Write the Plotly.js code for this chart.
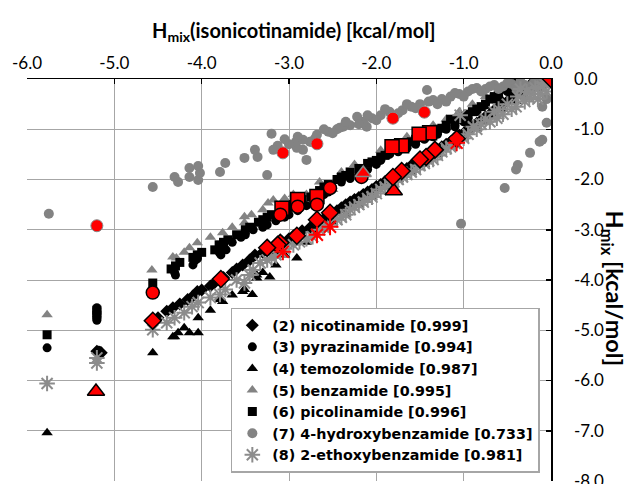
<!DOCTYPE html>
<html>
<head>
<meta charset="utf-8">
<script src="https://cdn.plot.ly/plotly-3.0.1.min.js"></script>
<style>html,body{margin:0;padding:0;background:#fff;}#chart{width:630px;height:484px;}</style>
</head>
<body>
<div id="chart"></div>
<script>
// ---- data ----
const seriesNames = [
  "(2) nicotinamide [0.999]",
  "(3) pyrazinamide [0.994]",
  "(4) temozolomide [0.987]",
  "(5) benzamide [0.995]",
  "(6) picolinamide [0.996]",
  "(7) 4-hydroxybenzamide [0.733]",
  "(8) 2-ethoxybenzamide [0.981]"
];

const nicoX = [-0.05,-0.15,-0.25,-0.35,-0.42,-0.5,-0.6,-0.7,-0.8,-0.9,-1.0,-1.15,-1.25,-1.35,-1.5,-1.6,-1.7,-1.9,-2.0,-2.1,-2.2,-2.3,-2.4,-2.6,-2.76,-2.85,-3.0,-3.08,-3.18,-3.39,-3.53,-3.65,-3.9,-4.05,-4.16,-4.33,-5.2,-5.15,
  -0.08,-0.2,-0.3,-0.45,-0.55,-0.65,-0.75,-0.85,-0.95,-1.05,-1.2,-1.3,-1.4,-1.45,-1.55,-1.65,-1.75,-1.85,-1.95,-2.05,-2.15,-2.25,-2.35,-2.45,-2.5,-2.55,-2.65,-2.7,-2.95,-3.12,-3.25,-3.3,-3.45,-3.6,-3.75,-3.85,-4.0,-4.1,-4.25,-4.4,-4.5];
const nicoY = [-0.05,-0.1,-0.2,-0.25,-0.32,-0.45,-0.55,-0.7,-0.82,-0.95,-1.08,-1.25,-1.35,-1.45,-1.62,-1.72,-1.84,-2.04,-2.14,-2.25,-2.36,-2.45,-2.56,-2.78,-2.96,-3.02,-3.18,-3.24,-3.38,-3.5,-3.7,-3.85,-4.12,-4.23,-4.39,-4.55,-5.42,-5.45,
  -0.12,-0.05,-0.18,-0.38,-0.48,-0.62,-0.75,-0.88,-1.0,-1.12,-1.3,-1.4,-1.52,-1.55,-1.68,-1.78,-1.9,-1.98,-2.1,-2.2,-2.3,-2.4,-2.5,-2.62,-2.68,-2.72,-2.82,-2.9,-3.12,-3.3,-3.42,-3.45,-3.6,-3.78,-3.95,-4.05,-4.2,-4.32,-4.48,-4.62,-4.75];

const pyraX = [-0.45,-0.65,-0.85,-1.1,-1.35,-1.55,-1.85,-2.0,-2.2,-2.4,-2.55,-2.7,-2.9,-3.05,-3.25,-3.41,-3.55,-3.76,-3.8,-4.08,-4.31,-5.2,-5.2,-5.2,-5.18,-5.77,
  -0.5,-0.6,-0.75,-0.95,-1.0,-1.2,-1.3,-1.45,-1.65,-1.75,-1.95,-2.1,-2.3,-2.5,-2.6,-2.8,-3.0,-3.15,-3.3,-3.5,-3.65,-3.72,-3.78,-4.1,-4.3,-4.05];
const pyraY = [-0.15,-0.4,-0.65,-0.95,-1.15,-1.3,-1.5,-1.7,-1.9,-2.05,-2.25,-2.45,-2.62,-2.75,-2.9,-3.0,-3.15,-3.36,-3.45,-3.62,-3.85,-4.55,-4.75,-4.8,-5.4,-5.35,
  -0.25,-0.35,-0.52,-0.78,-0.85,-1.0,-1.1,-1.2,-1.38,-1.45,-1.62,-1.8,-1.98,-2.18,-2.3,-2.52,-2.7,-2.82,-2.95,-3.1,-3.25,-3.4,-3.5,-3.7,-3.9,-3.58];

const temoX = [-0.3,-0.55,-0.75,-1.0,-1.3,-1.6,-1.9,-2.2,-2.5,-2.7,-2.91,-3.22,-3.37,-3.37,-3.42,-3.51,-3.53,-3.76,-3.79,-4.04,-4.04,-4.14,-4.27,-4.31,-4.33,-4.56,-5.77,
  -0.15,-0.4,-0.65,-0.85,-1.15,-1.45,-1.75,-2.05,-2.35,-2.6,-2.8,-3.05,-3.15,-3.3,-3.65,-3.9,-4.2];
const temoY = [-0.35,-0.6,-0.85,-1.15,-1.5,-1.85,-2.15,-2.5,-2.85,-3.1,-3.56,-3.94,-3.9,-3.96,-4.29,-4.19,-4.23,-4.43,-4.39,-4.75,-5.05,-5.05,-5.05,-5.13,-5.13,-5.45,-7.04,
  -0.2,-0.45,-0.75,-0.98,-1.35,-1.7,-2.0,-2.35,-2.7,-2.98,-3.25,-3.5,-3.7,-3.85,-4.3,-4.6,-4.95];

const benzX = [-0.35,-0.6,-0.9,-1.2,-1.5,-1.8,-2.11,-2.5,-2.8,-3.18,-3.24,-3.43,-3.51,-3.51,-3.76,-4.05,-4.14,-4.33,-4.29,-4.57,-5.77,
  -0.45,-0.75,-1.05,-1.35,-1.65,-1.95,-2.25,-2.4,-2.65,-2.95,-3.05,-3.3,-3.65,-3.9,-4.2];
const benzY = [0.0,-0.2,-0.5,-0.8,-1.05,-1.3,-1.71,-2.2,-2.3,-2.41,-2.47,-2.7,-2.74,-2.86,-3.06,-3.26,-3.36,-3.54,-3.56,-3.8,-4.69,
  -0.05,-0.35,-0.65,-0.92,-1.15,-1.42,-1.7,-1.85,-2.05,-2.3,-2.38,-2.6,-2.95,-3.15,-3.45];

const picoX = [-0.4,-0.5,-0.6,-0.7,-0.8,-0.95,-1.05,-1.2,-1.3,-1.6,-1.75,-1.95,-2.1,-2.3,-2.45,-2.6,-2.75,-2.95,-3.2,-3.35,-3.5,-3.75,-3.85,-4.05,-4.3,-4.56,-5.2,-5.77,
  -0.45,-0.55,-0.65,-0.75,-0.85,-0.9,-1.0,-1.1,-1.15,-1.25,-1.4,-1.45,-1.55,-1.65,-1.7,-1.85,-1.9,-2.0,-2.05,-2.2,-2.35,-2.4,-2.55,-2.65,-2.7,-2.85,-3.0,-3.1,-3.25,-3.3,-3.45,-3.6,-3.7,-3.8,-4.0,-4.1,-4.25,-4.35,-5.2,-5.2];
const picoY = [-0.05,-0.15,-0.3,-0.4,-0.55,-0.7,-0.8,-0.92,-1.0,-1.25,-1.38,-1.55,-1.68,-1.85,-2.0,-2.15,-2.35,-2.5,-2.7,-2.85,-3.0,-3.25,-3.4,-3.5,-3.72,-4.06,-4.65,-5.09,
  -0.1,-0.2,-0.35,-0.5,-0.6,-0.65,-0.75,-0.85,-0.8,-0.98,-1.1,-1.15,-1.2,-1.3,-1.38,-1.45,-1.52,-1.62,-1.65,-1.78,-1.92,-1.95,-2.1,-2.22,-2.28,-2.4,-2.55,-2.6,-2.75,-2.8,-2.95,-3.1,-3.2,-3.3,-3.45,-3.55,-3.65,-3.78,-4.7,-4.6];

const hydrX = [-0.02,-0.1,-0.2,-0.3,-0.45,-0.55,-0.65,-0.75,-0.85,-0.95,-1.05,-1.15,-1.25,-1.35,-1.42,-1.5,-1.6,-1.7,-1.85,-1.95,-2.05,-2.11,-2.15,-2.22,-2.3,-2.38,-2.42,-2.45,-2.55,-2.68,-2.75,-2.76,-2.84,-2.84,-2.91,-2.8,-2.92,-3.13,-3.2,-3.18,-3.36,-3.39,-3.51,-3.25,-3.73,-3.79,-4.02,-4.04,-4.04,-4.14,-4.14,-4.27,-4.31,-4.56,-5.75,-0.05,-0.1,-0.05,-0.1,-0.13,-0.24,-0.38,-0.4,-0.53,-1.03,
  -0.05,-0.15,-0.25,-0.35,-0.4,-0.5,-0.6,-0.7,-0.8,-0.9,-1.0,-1.1,-1.2,-1.3,-1.4,-1.55,-1.65,-1.75,-1.9,-2.0,-2.1,-2.2,-2.35,-2.5,-2.6,-2.7,-2.9,-3.0,-3.05];
const hydrY = [-0.05,-0.1,-0.08,-0.12,-0.1,-0.15,-0.12,-0.2,-0.18,-0.25,-0.3,-0.35,-0.4,-0.42,-0.22,-0.5,-0.55,-0.62,-0.65,-0.72,-0.78,-0.95,-0.85,-0.75,-0.92,-0.95,-0.97,-1.0,-1.05,-1.11,-1.25,-1.25,-1.21,-1.41,-1.37,-1.61,-1.25,-1.33,-1.09,-1.41,-1.55,-1.41,-1.57,-1.91,-1.67,-1.85,-1.87,-1.73,-2.01,-1.77,-1.95,-2.05,-1.95,-2.15,-2.68,-0.87,-0.55,-0.4,-1.21,-1.25,-1.47,-1.71,-1.8,-2.17,-2.88,
  0.0,-0.05,-0.15,-0.05,-0.18,-0.08,-0.2,-0.15,-0.25,-0.2,-0.35,-0.28,-0.45,-0.5,-0.45,-0.58,-0.5,-0.68,-0.6,-0.82,-0.72,-0.9,-0.85,-1.08,-1.0,-1.18,-1.15,-1.3,-1.2];

const ethoX = [-0.02,-0.05,-0.1,-0.15,-0.2,-0.3,-0.35,-0.4,-0.5,-0.55,-0.65,-0.7,-0.8,-0.89,-0.95,-1.04,-1.15,-1.25,-1.35,-1.45,-1.55,-1.65,-1.75,-1.85,-1.95,-2.05,-2.15,-2.25,-2.35,-2.45,-2.6,-2.73,-2.88,-3.1,-3.2,-3.33,-3.41,-3.51,-3.73,-3.79,-4.04,-4.11,-4.31,-4.56,-5.2,-5.2,-5.77,
  -0.08,-0.12,-0.18,-0.25,-0.28,-0.38,-0.45,-0.6,-0.62,-0.75,-0.85,-1.0,-1.1,-1.2,-1.3,-1.4,-1.5,-1.6,-1.7,-1.8,-1.9,-2.0,-2.1,-2.2,-2.3,-2.4,-2.55,-2.65,-2.8,-2.95,-3.05,-3.15,-3.25,-3.45,-3.6,-3.9,-4.2,-4.4];
const ethoY = [-0.02,-0.25,-0.15,-0.4,-0.3,-0.45,-0.2,-0.55,-0.5,-0.7,-0.65,-0.85,-0.9,-0.95,-1.1,-0.72,-1.35,-1.45,-1.6,-1.68,-1.8,-1.9,-2.0,-2.1,-2.2,-2.35,-2.45,-2.55,-2.7,-2.8,-2.95,-3.14,-3.24,-3.44,-3.56,-3.66,-3.8,-4.06,-4.19,-4.29,-4.45,-4.53,-4.75,-4.99,-5.55,-5.65,-6.06,
  -0.08,-0.3,-0.18,-0.38,-0.25,-0.35,-0.6,-0.6,-0.78,-0.8,-1.0,-1.18,-1.28,-1.38,-1.52,-1.62,-1.72,-1.85,-1.95,-2.05,-2.15,-2.28,-2.38,-2.5,-2.6,-2.75,-2.9,-3.0,-3.18,-3.3,-3.38,-3.5,-3.6,-3.9,-4.0,-4.35,-4.65,-4.85];

// highlighted (red) points
const redDiaX = [0.0,-1.08,-1.33,-1.43,-1.5,-1.71,-1.81,-2.53,-2.68,-2.91,-3.1,-3.13,-3.25,-3.78,-4.56];
const redDiaY = [0.0,-1.19,-1.41,-1.55,-1.6,-1.83,-1.95,-2.66,-2.8,-3.12,-3.26,-3.3,-3.36,-3.98,-4.81];
const redSqX = [-1.39,-1.51,-1.71,-1.82,-2.68,-2.9,-3.08];
const redSqY = [-1.07,-1.1,-1.33,-1.35,-2.34,-2.4,-2.57];
const redPyrX = [-2.17,-2.53,-2.68,-2.9,-3.1,-4.56];
const redPyrY = [-1.95,-2.17,-2.5,-2.54,-2.7,-4.25];
const redHydX = [-1.45,-1.81,-2.68,-3.07,-5.2];
const redHydY = [-0.66,-0.78,-1.29,-1.47,-2.92];
const redBenzX = [-2.15];
const redBenzY = [-1.87];
const redTemoX = [-1.8,-5.21];
const redTemoY = [-2.23,-6.22];
const redEthX = [-1.08,-2.53,-2.68,-3.07];
const redEthY = [-1.27,-2.94,-3.1,-3.44];

const xTickVals = [-6,-5,-4,-3,-2,-1,0];
const xTickText = ["-6.0","-5.0","-4.0","-3.0","-2.0","-1.0","0.0"];
const yTickVals = [0,-1,-2,-3,-4,-5,-6,-7,-8];
const yTickText = ["0.0","-1.0","-2.0","-3.0","-4.0","-5.0","-6.0","-7.0","-8.0"];

// ---- styling ----
const GRAY = "#838383";
function pts(x, y, name, symbol, size, color) {
  return {type: "scatter", mode: "markers", x: x, y: y, name: name,
    marker: {symbol: symbol, size: size, color: color, line: {width: 0}}};
}

const traces = [
  pts(nicoX, nicoY, seriesNames[0], "diamond", 10, "#000"),
  pts(pyraX, pyraY, seriesNames[1], "circle", 9, "#000"),
  pts(temoX, temoY, seriesNames[2], "triangle-up", 10, "#000"),
  pts(benzX, benzY, seriesNames[3], "triangle-up", 10, GRAY),
  pts(picoX, picoY, seriesNames[4], "square", 9, "#000"),
  pts(hydrX, hydrY, seriesNames[5], "circle", 10, GRAY),
  {type: "scatter", mode: "markers", x: ethoX, y: ethoY, name: seriesNames[6],
   marker: {symbol: "asterisk-open", size: 13, color: "#8c8c8c", line: {width: 2, color: "#8c8c8c"}}},
  // red highlights
  {type: "scatter", mode: "markers", x: redHydX, y: redHydY, showlegend: false,
   marker: {symbol: "circle", size: 12, color: "#ff0000", line: {width: 1, color: "#888"}}},
  {type: "scatter", mode: "markers", x: redSqX, y: redSqY, showlegend: false,
   marker: {symbol: "square", size: 14, color: "#ff0000", line: {width: 1.5, color: "#000"}}},
  {type: "scatter", mode: "markers", x: redPyrX, y: redPyrY, showlegend: false,
   marker: {symbol: "circle", size: 13, color: "#ff0000", line: {width: 1.5, color: "#000"}}},
  {type: "scatter", mode: "markers", x: redBenzX, y: redBenzY, showlegend: false,
   marker: {symbol: "triangle-up", size: 14, color: "#ff0000", line: {width: 1.5, color: "#888"}}},
  {type: "scatter", mode: "markers", x: redTemoX, y: redTemoY, showlegend: false,
   marker: {symbol: "triangle-up", size: 15, color: "#ff0000", line: {width: 1.5, color: "#000"}}},
  {type: "scatter", mode: "markers", x: redDiaX, y: redDiaY, showlegend: false,
   marker: {symbol: "diamond", size: 13, color: "#ff0000", line: {width: 1.5, color: "#000"}}},
  {type: "scatter", mode: "markers", x: redEthX, y: redEthY, showlegend: false,
   marker: {symbol: "asterisk-open", size: 14, color: "#ff0000", line: {width: 2, color: "#ff0000"}}}
];

const FONT = "Lato, 'Open Sans', sans-serif";
const layout = {
  width: 630, height: 484,
  margin: {l: 27, r: 79, t: 79, b: 3, pad: 0},
  paper_bgcolor: "#fff", plot_bgcolor: "#fff",
  font: {family: FONT, size: 16, color: "#000"},
  showlegend: true,
  xaxis: {
    side: "top", range: [-6, 0], tickvals: xTickVals, ticktext: xTickText,
    showgrid: true, gridcolor: "#a6a6a6", gridwidth: 1, zeroline: false,
    showline: true, linecolor: "#000", linewidth: 1.5,
    ticks: "inside", ticklen: 5, tickwidth: 1.5, tickcolor: "#000",
    ticklabelstandoff: 2, tickfont: {family: FONT, size: 17, color: "#000"}
  },
  yaxis: {
    side: "right", range: [-8, 0], tickvals: yTickVals, ticktext: yTickText,
    showgrid: true, gridcolor: "#a6a6a6", gridwidth: 1, zeroline: false,
    showline: true, linecolor: "#000", linewidth: 1.5,
    ticks: "inside", ticklen: 5, tickwidth: 1.5, tickcolor: "#000",
    ticklabelstandoff: 18, ticklabeloverflow: "allow",
    tickfont: {family: FONT, size: 17, color: "#000"}
  },
  legend: {
    x: 0.389, y: 0.02, xanchor: "left", yanchor: "bottom",
    bgcolor: "#fff", bordercolor: "#a6a6a6", borderwidth: 1.5,
    font: {family: "'DejaVu Sans', 'Open Sans', sans-serif", size: 14.3, color: "#000", weight: "bold"},
    itemsizing: "trace", tracegroupgap: 0
  },
  annotations: [
    {xref: "paper", yref: "paper", x: 0.2347, y: 1.119, xanchor: "left", yanchor: "middle",
     showarrow: false, text: "H<sub>mix</sub>(isonicotinamide) [kcal/mol]",
     font: {family: FONT, size: 20, color: "#000", weight: "bold"}},
    {xref: "paper", yref: "paper", x: 1.118, y: 0.479, xanchor: "center", yanchor: "middle",
     showarrow: false, textangle: 90, text: "H<sub>mix</sub> [kcal/mol]",
     font: {family: FONT, size: 23.5, color: "#000", weight: "bold"}}
  ]
};

Plotly.newPlot("chart", traces, layout, {displayModeBar: false, staticPlot: true});
</script>
</body>
</html>
